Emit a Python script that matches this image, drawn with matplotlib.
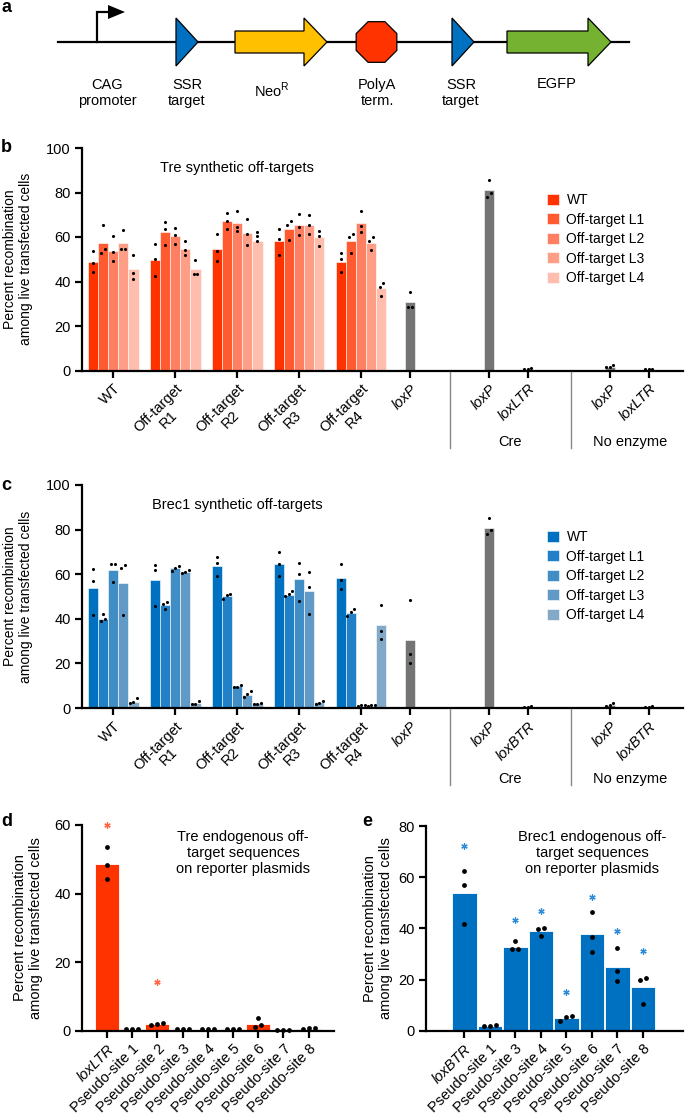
import numpy as np
import matplotlib
matplotlib.use('Agg')
import matplotlib.pyplot as plt
from matplotlib.patches import Polygon, Patch
from matplotlib.lines import Line2D

plt.rcParams['font.family'] = ['Liberation Sans', 'DejaVu Sans']
plt.rcParams['mathtext.fontset'] = 'custom'
plt.rcParams['mathtext.rm'] = 'Liberation Sans'
plt.rcParams['font.size'] = 10

# ---- data, panels b and c (rows = WT, R1..R4 targets; cols = WT, L1..L4 series)
group_labels = ['WT', 'Off-target\nR1', 'Off-target\nR2', 'Off-target\nR3', 'Off-target\nR4']
series_labels = ['WT', 'Off-target L1', 'Off-target L2', 'Off-target L3', 'Off-target L4']

tre_means = [[48.6, 57.4, 53.8, 57.4, 45.5],
             [49.7, 62.2, 60.5, 54.7, 45.5],
             [54.7, 67.0, 66.4, 61.9, 58.1],
             [58.3, 63.5, 65.2, 65.5, 59.8],
             [48.8, 58.0, 66.2, 57.1, 36.9]]
tre_reps = [[[53.8, 48.5, 44.3], [65.5, 52.9, 54.4], [60.4, 53.2, 49.0], [63.0, 54.4, 54.7], [52.0, 43.7, 41.3]],
            [[56.8, 50.0, 42.3], [66.7, 63.8, 56.2], [64.0, 61.0, 56.8], [58.3, 54.0, 52.0], [49.8, 43.2, 43.2]],
            [[61.4, 53.5, 49.0], [70.9, 67.0, 63.4], [71.6, 64.7, 62.6], [67.9, 61.4, 56.5], [62.2, 60.4, 58.3]],
            [[63.5, 59.0, 52.0], [67.1, 65.5, 58.6], [70.4, 64.6, 61.0], [69.7, 65.3, 61.3], [62.9, 60.4, 55.9]],
            [[53.0, 50.2, 44.3], [61.4, 60.2, 52.9], [71.5, 65.0, 62.3], [59.8, 58.0, 54.0], [39.5, 37.7, 33.6]]]
tre_ctrl_labels = ['loxP', 'loxP', 'loxLTR', 'loxP', 'loxLTR']
tre_ctrl_means = [30.9, 80.9, 0.5, 1.4, 0.6]
tre_ctrl_reps = [[35.3, 28.7, 28.7], [85.4, 79.7, 78.2], [0.9, 0.6, 0.6], [2.4, 1.4, 1.4], [0.7, 0.6, 0.6]]

brec_means = [[53.6, 40.0, 61.7, 56.1, 2.8],
              [57.2, 46.3, 62.7, 61.2, 2.3],
              [63.9, 50.4, 9.7, 6.0, 2.2],
              [64.4, 50.7, 57.8, 52.4, 2.6],
              [58.4, 42.5, 0.8, 0.8, 37.1]]
brec_reps = [[[62.4, 56.9, 41.5], [42.1, 38.9, 39.7], [64.5, 64.5, 56.7], [64.1, 62.9, 41.8], [4.3, 2.1, 2.8]],
             [[64.0, 62.1, 45.7], [47.6, 46.5, 44.5], [63.9, 62.7, 61.4], [61.7, 60.6, 60.9], [3.0, 1.9, 1.9]],
             [[67.7, 65.1, 59.4], [51.2, 50.7, 49.0], [10.5, 9.3, 9.6], [7.5, 6.4, 4.8], [2.4, 1.9, 1.9]],
             [[70.0, 64.4, 59.0], [52.4, 51.0, 50.1], [65.1, 60.2, 47.9], [60.9, 54.2, 42.2], [3.3, 1.9, 2.2]],
             [[64.4, 57.6, 53.4], [44.2, 43.0, 41.2], [1.2, 1.1, 1.2], [1.2, 1.1, 1.2], [46.1, 34.6, 31.1]]]
brec_ctrl_labels = ['loxP', 'loxP', 'loxBTR', 'loxP', 'loxBTR']
brec_ctrl_means = [30.7, 80.7, 0.4, 1.2, 0.6]
brec_ctrl_reps = [[48.4, 24.1, 20.2], [85.0, 79.6, 78.0], [0.8, 0.6, 0.6], [2.3, 1.2, 1.0], [0.9, 0.6, 0.6]]

# ---- data, panels d and e
tre_endo_labels = ['loxLTR'] + ['Pseudo-site %d' % i for i in range(1, 9)]
tre_endo_means = [48.6, 0.5, 2.0, 0.3, 0.3, 0.4, 2.0, 0.2, 0.6]
tre_endo_reps = [[53.5, 48.3, 44.2], [0.6, 0.5, 0.5], [2.3, 1.75, 2.1], [0.4, 0.4, 0.4], [0.4, 0.4, 0.4],
                 [0.5, 0.5, 0.6], [3.8, 1.2, 1.6], [0.2, 0.2, 0.2], [0.8, 0.6, 0.8]]
tre_endo_stars = [60.0, np.nan, 14.3, np.nan, np.nan, np.nan, np.nan, np.nan, np.nan]

brec_endo_labels = ['loxBTR'] + ['Pseudo-site %d' % i for i in [1, 3, 4, 5, 6, 7, 8]]
brec_endo_means = [53.7, 1.8, 32.8, 39.0, 4.8, 37.8, 24.8, 16.9]
brec_endo_reps = [[62.5, 56.9, 41.7], [2.2, 1.8, 2.0], [35.0, 31.8, 31.8], [40.0, 39.7, 37.0],
                  [5.7, 3.8, 5.3], [46.3, 36.5, 30.6], [32.4, 23.3, 19.4], [20.7, 19.8, 10.4]]
brec_endo_stars = [72.2, np.nan, 43.3, 46.8, 15.2, 52.4, 39.1, 31.3]

# ---- colours
tre_colors = ['#FF3300', '#FF5A30', '#FF7F62', '#FF9E86', '#FFBDAE']
brec_colors = ['#0070C0', '#2280C6', '#418DC6', '#619AC6', '#83A9C8']
grey = '#747474'

W, H = 685, 1116
fig = plt.figure(figsize=(W / 100, H / 100), dpi=100)


def fx(px):
    return px / W


def fy(py):
    return 1 - py / H


def add_ax(left, top, right, bottom):
    return fig.add_axes([fx(left), fy(bottom), (right - left) / W, (bottom - top) / H])


def spread(vals, thr, step):
    # horizontal offsets so that overlapping dots sit side by side
    vals = np.asarray(vals, dtype=float)
    order = np.argsort(vals)
    offs = np.zeros(len(vals))
    clusters = [[order[0]]]
    for a, b in zip(order[:-1], order[1:]):
        if vals[b] - vals[a] < thr:
            clusters[-1].append(b)
        else:
            clusters.append([b])
    for c in clusters:
        for k, i in enumerate(c):
            offs[i] = (k - (len(c) - 1) / 2) * step
    return offs


def style_axis(ax, fs):
    for s in ['top', 'right']:
        ax.spines[s].set_visible(False)
    for s in ['left', 'bottom']:
        ax.spines[s].set_linewidth(1.6)
    ax.tick_params(axis='both', length=5, width=1.6, labelsize=fs, pad=3)


def panel_label(x, y, s):
    fig.text(fx(x), fy(y), s, fontsize=13, fontweight='bold', ha='left', va='center')


# ---- panel a: reporter construct
ax_a = add_ax(0, 0, W, 130)
ax_a.set_xlim(0, W)
ax_a.set_ylim(130, 0)
ax_a.axis('off')
ax_a.plot([58, 629], [42, 42], color='black', lw=1.6, zorder=1)
ax_a.plot([97, 97, 109], [42, 12, 12], color='black', lw=1.6, solid_joinstyle='miter')
ax_a.add_patch(Polygon([(108, 5), (125, 12), (108, 19)], closed=True, fc='black', ec='none'))
for x0 in [176, 452]:
    ax_a.add_patch(Polygon([(x0, 18), (x0 + 22, 42), (x0, 66)], closed=True,
                           fc='#0070C0', ec='black', lw=0.9, zorder=2))
for x0, x1, x2, c in [(235, 304, 327, '#FFC000'), (507, 588, 611, '#76B232')]:
    ax_a.add_patch(Polygon([(x0, 31), (x1, 31), (x1, 18), (x2, 42), (x1, 66), (x1, 53), (x0, 53)],
                           closed=True, fc=c, ec='black', lw=0.9, zorder=2))
ang = np.deg2rad(22.5 + 45 * np.arange(8))
ax_a.add_patch(Polygon(np.c_[376.5 + 22 * np.cos(ang), 42 + 22 * np.sin(ang)], closed=True,
                       fc='#FF3300', ec='black', lw=0.9, zorder=2))
for x, s in [(107, 'CAG\npromoter'), (187, 'SSR\ntarget'), (377, 'PolyA\nterm.'), (461, 'SSR\ntarget')]:
    ax_a.text(x, 93, s, ha='center', va='center', fontsize=10.5, linespacing=1.15)
ax_a.text(272, 90, 'Neo$^{\\mathrm{R}}$', ha='center', va='center', fontsize=10.5)
ax_a.text(557, 84, 'EGFP', ha='center', va='center', fontsize=10.5)
panel_label(1, 8, 'a')

# ---- panels b and c
group_x = 113 + 62 * np.arange(5)
ctrl_x = [410, 489, 528, 610, 649]
divider_x = [450, 571]
bar_w = 10.2


def synthetic_panel(top, bottom, means, reps, ctrl_means, ctrl_reps, ctrl_labels, colors, title, letter):
    ax = add_ax(82, top, 683, bottom)
    for g, gx in enumerate(group_x):
        for i in range(5):
            x = gx + (i - 2) * bar_w
            ax.bar(x, means[g][i], width=bar_w, color=colors[i], edgecolor='white', linewidth=0.4, zorder=2)
            ax.scatter(x + spread(reps[g][i], 1.8, 3.5), reps[g][i], s=5, color='black', linewidths=0,
                       zorder=3, clip_on=False)
    for k, cx in enumerate(ctrl_x):
        ax.bar(cx, ctrl_means[k], width=bar_w, color=grey, edgecolor='white', linewidth=0.4, zorder=2)
        ax.scatter(cx + spread(ctrl_reps[k], 1.8, 3.5), ctrl_reps[k], s=5, color='black', linewidths=0,
                   zorder=3, clip_on=False)
    ax.set_xlim(82, 683)
    ax.set_ylim(0, 100)
    ax.set_yticks([0, 20, 40, 60, 80, 100])
    ax.set_xticks(list(group_x) + ctrl_x)
    ax.set_xticklabels(group_labels + ctrl_labels, rotation=45, ha='right', va='top',
                       rotation_mode='anchor', multialignment='center', linespacing=1.1)
    for t in ax.get_xticklabels():
        if t.get_text().startswith('lox'):
            t.set_style('italic')
    style_axis(ax, 10.5)
    ax.set_ylabel('Percent recombination\namong live transfected cells', fontsize=10, linespacing=1.2)
    ax.yaxis.set_label_coords((33 - 82) / 601, 0.5)
    for dx in divider_x:
        fig.add_artist(Line2D([fx(dx), fx(dx)], [fy(bottom + 1), fy(bottom + 77)], color='#888888', lw=1))
    fig.text(fx(510), fy(bottom + 71), 'Cre', ha='center', va='center', fontsize=10.5)
    fig.text(fx(630), fy(bottom + 71), 'No enzyme', ha='center', va='center', fontsize=10.5)
    fig.text(fx(237), fy(top + 20), title, ha='center', va='center', fontsize=10.5)
    handles = [Patch(facecolor=c, edgecolor='white', linewidth=0.4) for c in colors]
    ax.legend(handles, series_labels, loc='upper left', bbox_to_anchor=(fx(547), fy(top + 45)),
              bbox_transform=fig.transFigure, frameon=False, borderpad=0, borderaxespad=0,
              handlelength=0.85, handleheight=0.85, handletextpad=0.55, labelspacing=0.4, fontsize=10)
    panel_label(1, top, letter)
    return ax


synthetic_panel(148, 370.5, tre_means, tre_reps, tre_ctrl_means, tre_ctrl_reps, tre_ctrl_labels,
                tre_colors, 'Tre synthetic off-targets', 'b')
synthetic_panel(485, 708, brec_means, brec_reps, brec_ctrl_means, brec_ctrl_reps, brec_ctrl_labels,
                brec_colors, 'Brec1 synthetic off-targets', 'c')


# ---- panels d and e
def endo_panel(left, right, top, ymax, tick0, pitch, labels, means, reps, stars, color, star_color,
               title, title_x, label_right, letter, letter_x):
    ax = add_ax(left, top, right, 1030.7)
    x = np.arange(len(labels))
    ax.bar(x, means, width=0.96, color=color, edgecolor='white', linewidth=0.6, zorder=2)
    thr = 5.0 / ((1030.7 - top) / ymax)
    for i in x:
        ax.scatter(i + spread(reps[i], thr, 6.0 / pitch), reps[i], s=12, color='black', linewidths=0,
                   zorder=3, clip_on=False)
    ax.plot(x, stars, linestyle='none', marker=(6, 2, 0), markersize=4.5, markeredgewidth=0.9,
            color=star_color, clip_on=False, zorder=3)
    ax.set_xlim((left - tick0) / pitch, (right - tick0) / pitch)
    ax.set_ylim(0, ymax)
    ax.set_yticks(np.arange(0, ymax + 1, 20))
    ax.set_xticks(x)
    ax.set_xticklabels(labels, rotation=45, ha='right', va='top', rotation_mode='anchor')
    for t in ax.get_xticklabels():
        if t.get_text().startswith('lox'):
            t.set_style('italic')
    style_axis(ax, 10.5)
    ax.set_ylabel('Percent recombination\namong live transfected cells', fontsize=10.5, linespacing=1.2)
    ax.yaxis.set_label_coords((label_right - left) / (right - left), 0.5)
    fig.text(fx(title_x), fy(853), title, ha='center', va='center', fontsize=10.5, linespacing=1.2)
    panel_label(letter_x, 822, letter)
    return ax


endo_panel(82, 334, 825, 60, 107, 25.2, tre_endo_labels, tre_endo_means, tre_endo_reps, tre_endo_stars,
           '#FF3300', '#FF6440', 'Tre endogenous off-\ntarget sequences\non reporter plasmids', 243, 43, 'd', 1)
endo_panel(426, 683, 826, 80, 464.3, 25.5, brec_endo_labels, brec_endo_means, brec_endo_reps, brec_endo_stars,
           '#0070C0', '#2E8BD8', 'Brec1 endogenous off-\ntarget sequences\non reporter plasmids', 592, 393, 'e', 362)

fig.savefig('out.png', dpi=100)
